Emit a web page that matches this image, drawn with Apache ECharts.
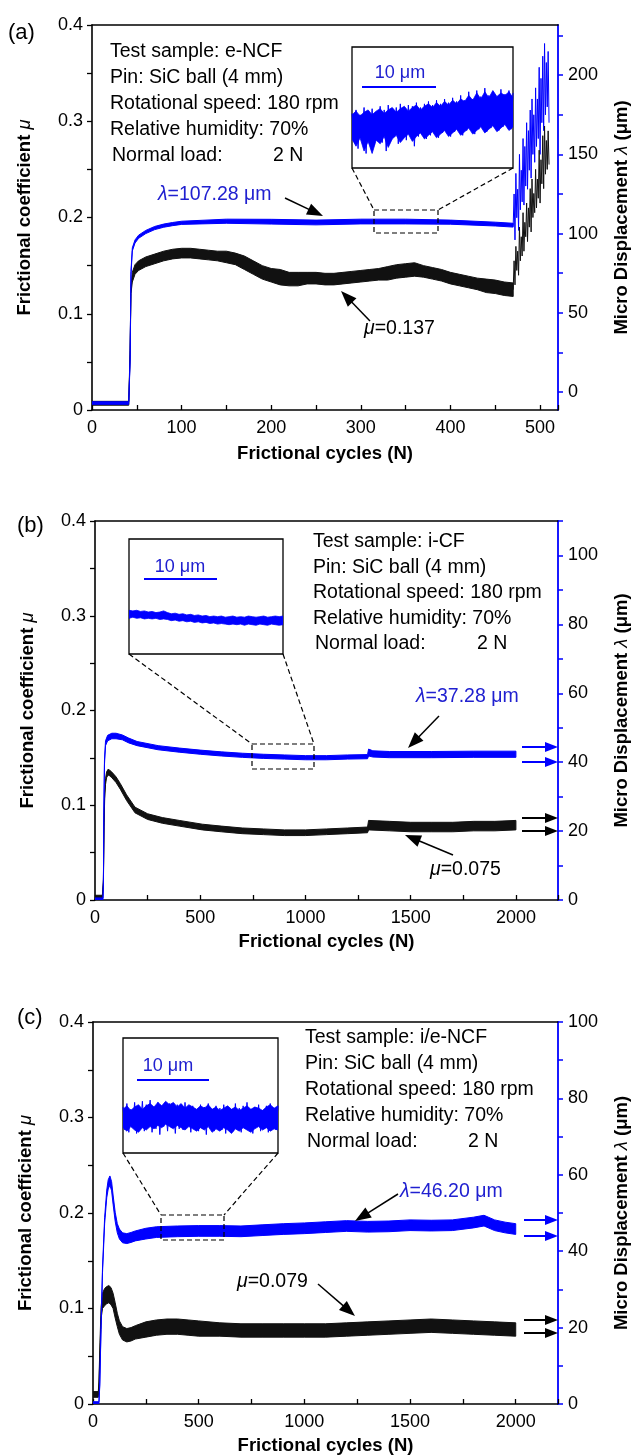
<!DOCTYPE html>
<html>
<head>
<meta charset="utf-8">
<script src="https://cdn.jsdelivr.net/npm/echarts@6/dist/echarts.min.js"></script>
<style>
html,body{margin:0;padding:0;background:#fff;}
#c{width:639px;height:1456px;}
</style>
</head>
<body>
<div id="c"></div>
<script>
// ================= DATA =================
// ---- Panel (a): e-NCF, x 0..520 cycles ----
const aMuX = [0, 41, 42.5, 43.5, 45, 48, 52, 60, 70, 80, 90, 100, 110, 120, 130, 140, 150, 160, 170, 180, 190, 200, 210, 220, 230, 240, 250, 260, 270, 280, 290, 300, 310, 320, 330, 340, 350, 360, 370, 380, 390, 400, 410, 420, 430, 440, 450, 460, 470];
const aMu = [0.007, 0.007, 0.06, 0.125, 0.138, 0.146, 0.150, 0.154, 0.157, 0.160, 0.162, 0.163, 0.163, 0.162, 0.161, 0.160, 0.159, 0.157, 0.153, 0.148, 0.143, 0.140, 0.138, 0.136, 0.136, 0.137, 0.137, 0.136, 0.136, 0.137, 0.138, 0.139, 0.140, 0.141, 0.142, 0.144, 0.145, 0.146, 0.144, 0.142, 0.140, 0.137, 0.135, 0.133, 0.131, 0.129, 0.128, 0.126, 0.125];
const aMuBand = [0.002, 0.002, 0.002, 0.004, 0.005, 0.005, 0.005, 0.005, 0.005, 0.005, 0.005, 0.005, 0.005, 0.005, 0.005, 0.005, 0.006, 0.006, 0.007, 0.007, 0.007, 0.007, 0.008, 0.007, 0.007, 0.006, 0.006, 0.006, 0.006, 0.006, 0.006, 0.006, 0.006, 0.006, 0.007, 0.007, 0.007, 0.007, 0.006, 0.006, 0.006, 0.006, 0.006, 0.006, 0.006, 0.007, 0.007, 0.007, 0.007];
const aLamX = [0, 41, 42.5, 43.5, 45, 48, 52, 60, 70, 80, 90, 100, 150, 200, 250, 300, 350, 400, 450, 470];
const aLam = [-7, -7, 20, 75, 90, 95, 98, 101, 103.5, 105, 106, 106.8, 107.8, 107.5, 107, 107.6, 107.6, 107.2, 106, 105.3];
const aLamBand = [0.8, 0.8, 0.8, 1, 1, 1, 1, 1, 1, 1, 1, 1, 1.3, 1.5, 1.5, 1.5, 1.5, 1.3, 1.2, 1.2];
const aTailX = [470, 471, 472, 473, 474, 475, 476, 477, 478, 479, 480, 481, 482, 483, 484, 485, 486, 487, 488, 489, 490, 491, 492, 493, 494, 495, 496, 497, 498, 499, 500, 501, 502, 503, 504, 505, 506, 507, 508, 509, 510];
const aMuTail = [0.125, 0.155, 0.13, 0.17, 0.145, 0.165, 0.14, 0.19, 0.155, 0.18, 0.16, 0.205, 0.165, 0.195, 0.18, 0.215, 0.175, 0.21, 0.19, 0.23, 0.185, 0.24, 0.2, 0.225, 0.205, 0.25, 0.21, 0.24, 0.22, 0.27, 0.215, 0.26, 0.235, 0.285, 0.23, 0.295, 0.245, 0.28, 0.25, 0.29, 0.255];
const aLamTail = [105, 125, 96, 138, 110, 128, 102, 150, 115, 140, 120, 160, 118, 155, 130, 170, 128, 165, 140, 178, 135, 185, 150, 175, 145, 192, 155, 185, 160, 205, 150, 198, 170, 212, 165, 220, 175, 208, 180, 215, 170];
// inset (a): upper / lower edge of the blue band + the noisy trace inside it (inset units 0..100)
const aInHi = [44, 47, 43, 46, 48, 44, 47, 49, 45, 48, 50, 46, 49, 51, 47, 50, 52, 48, 51, 53, 50, 54, 51, 55, 52, 56, 53, 57, 55, 60, 56, 62, 57, 63, 58, 64, 59, 62, 60, 63, 58];
const aInLo = [24, 18, 25, 14, 22, 12, 23, 20, 26, 17, 24, 27, 21, 25, 28, 22, 26, 29, 24, 27, 30, 25, 28, 31, 26, 29, 32, 27, 30, 33, 28, 31, 34, 29, 32, 35, 30, 33, 36, 31, 34];
const aInZig = [45, 22, 48, 16, 44, 26, 50, 12, 47, 23, 49, 19, 46, 25, 51, 21, 48, 14, 52, 24,
  47, 26, 50, 20, 53, 27, 49, 23, 52, 28, 51, 18, 54, 26, 50, 29, 53, 24, 55, 27,
  52, 30, 56, 25, 53, 29, 57, 31, 54, 26, 58, 30, 55, 32, 60, 27, 56, 31, 63, 33,
  57, 28, 64, 32, 59, 34, 66, 30, 60, 33, 63, 35, 58, 31, 65, 34, 61, 36, 64, 32, 62];

// ---- Panel (b): i-CF, x 0..2200 cycles ----
const bMuX = [0, 35, 40, 43, 46, 50, 55, 62, 70, 80, 100, 120, 150, 190, 250, 320, 400, 510, 600, 700, 800, 900, 1000, 1100, 1200, 1295, 1300, 1400, 1500, 1600, 1700, 1800, 1900, 2000];
const bMu = [0.003, 0.003, 0.02, 0.08, 0.11, 0.125, 0.132, 0.135, 0.134, 0.132, 0.127, 0.12, 0.108, 0.095, 0.088, 0.084, 0.081, 0.077, 0.075, 0.073, 0.072, 0.071, 0.071, 0.072, 0.073, 0.074, 0.079, 0.078, 0.077, 0.077, 0.077, 0.078, 0.078, 0.079];
const bMuBand = [0.002, 0.002, 0.002, 0.002, 0.003, 0.003, 0.003, 0.003, 0.003, 0.003, 0.003, 0.003, 0.003, 0.003, 0.003, 0.003, 0.003, 0.003, 0.003, 0.003, 0.003, 0.003, 0.003, 0.003, 0.003, 0.003, 0.005, 0.005, 0.005, 0.005, 0.005, 0.005, 0.005, 0.005];
const bLamX = [0, 38, 40, 42, 45, 50, 60, 80, 100, 130, 160, 200, 300, 400, 500, 600, 700, 800, 900, 1000, 1100, 1200, 1295, 1300, 1320, 1400, 1600, 1800, 2000];
const bLam = [0.3, 0.3, 5, 25, 40, 45.5, 47, 47.6, 47.6, 47.2, 46.3, 45.4, 44.2, 43.5, 42.9, 42.4, 42.0, 41.7, 41.5, 41.3, 41.3, 41.5, 41.6, 42.8, 42.4, 42.2, 42.2, 42.3, 42.3];
const bLamBand = [0.3, 0.3, 0.3, 0.5, 0.6, 0.7, 0.8, 0.8, 0.8, 0.7, 0.7, 0.6, 0.6, 0.6, 0.6, 0.6, 0.6, 0.6, 0.6, 0.6, 0.6, 0.6, 0.6, 1.0, 0.9, 0.9, 0.9, 0.9, 0.9];
const bInHi = [38, 37.5, 38, 37, 37.5, 36.5, 37, 36, 36.5, 37.5, 36, 35, 35.5, 34.5, 35, 34, 34.5, 33.5, 34, 33, 33.5, 32.5, 33, 32.5, 33, 32, 32.5, 33, 32, 32.5, 32, 33, 32.5, 32, 32.5, 33, 32, 32.5, 33, 32.5, 33];
const bInLo = [31, 32, 31, 31.5, 30.5, 31, 30.5, 31, 30, 30.5, 30, 29, 29.5, 28.5, 29, 28, 28.5, 27.5, 28, 27, 27.5, 26.5, 27, 26, 26.5, 26, 25.5, 26, 25.5, 26, 25, 26, 25.5, 25, 26, 25.5, 25, 26, 25.5, 25, 25.5];

// ---- Panel (c): i/e-NCF, x 0..2200 cycles ----
const cMuX = [0, 25, 28, 33, 38, 45, 55, 65, 75, 85, 95, 105, 115, 125, 140, 160, 180, 200, 250, 300, 350, 400, 450, 500, 600, 700, 800, 900, 1000, 1100, 1200, 1300, 1400, 1500, 1600, 1700, 1800, 1900, 2000];
const cMu = [0.010, 0.010, 0.02, 0.06, 0.095, 0.108, 0.112, 0.114, 0.115, 0.113, 0.108, 0.098, 0.088, 0.080, 0.074, 0.072, 0.073, 0.075, 0.078, 0.080, 0.081, 0.081, 0.080, 0.079, 0.078, 0.077, 0.077, 0.077, 0.077, 0.077, 0.078, 0.079, 0.080, 0.081, 0.082, 0.081, 0.080, 0.079, 0.078];
const cMuBand = [0.003, 0.003, 0.003, 0.004, 0.006, 0.008, 0.009, 0.009, 0.009, 0.009, 0.008, 0.008, 0.007, 0.007, 0.007, 0.007, 0.007, 0.007, 0.008, 0.008, 0.008, 0.008, 0.008, 0.008, 0.007, 0.007, 0.007, 0.007, 0.007, 0.007, 0.007, 0.007, 0.007, 0.007, 0.007, 0.007, 0.007, 0.007, 0.007];
const cLamX = [0, 28, 32, 38, 45, 55, 65, 72, 80, 88, 95, 105, 115, 125, 140, 160, 180, 200, 250, 300, 400, 500, 600, 700, 800, 900, 1000, 1100, 1200, 1300, 1400, 1500, 1600, 1700, 1800, 1850, 1900, 1950, 2000];
const cLam = [0.3, 0.3, 5, 20, 35, 48, 55, 57.5, 58.5, 57, 53.5, 49, 46, 44.5, 43.5, 43.3, 43.6, 44, 44.6, 45, 45.2, 45.3, 45.3, 45.2, 45.5, 45.8, 46, 46.3, 46.6, 46.4, 46.5, 46.8, 46.7, 46.8, 47.5, 48, 46.8, 46.2, 45.8];
const cLamBand = [0.3, 0.3, 0.3, 0.5, 0.6, 0.8, 1, 1.2, 1.2, 1.2, 1.2, 1.2, 1.2, 1.3, 1.3, 1.3, 1.3, 1.3, 1.4, 1.4, 1.4, 1.4, 1.4, 1.4, 1.4, 1.4, 1.4, 1.4, 1.4, 1.4, 1.4, 1.4, 1.4, 1.4, 1.4, 1.4, 1.4, 1.4, 1.4];
const cInHi = [38, 41, 37, 40, 42, 38, 41, 43, 40, 44, 41, 45, 42, 44, 40, 43, 39, 42, 40, 38, 41, 39, 42, 38, 40, 37, 39, 41, 38, 40, 37, 39, 41, 38, 40, 39, 37, 40, 42, 39, 41];
const cInLo = [22, 19, 23, 20, 18, 22, 20, 23, 21, 24, 22, 25, 23, 21, 24, 22, 20, 23, 21, 19, 22, 20, 23, 18, 21, 19, 22, 20, 17, 21, 19, 22, 20, 18, 21, 23, 20, 22, 19, 21, 20];
const cInZig = [40, 20, 43, 18, 38, 23, 44, 17, 41, 22, 45, 19, 42, 24, 46, 18, 40, 21, 44, 16,
  41, 23, 39, 19, 43, 22, 40, 17, 42, 21, 38, 20, 44, 23, 39, 18, 41, 22, 37, 19,
  42, 21, 40, 16, 43, 22, 38, 19, 41, 23, 39, 20, 42, 17, 40, 22, 38, 19, 43, 21,
  39, 18, 41, 22, 44, 20, 38, 17, 40, 23, 42, 19, 37, 21, 41, 18, 43, 22, 39, 20, 41];

// ---- tick values ----
const aRightLabels = [0, 50, 100, 150, 200];
const aRightTicks = [0, 25, 50, 75, 100, 125, 150, 175, 200, 225];

// ================= CHART =================
const FONT = '"Liberation Sans", Arial, Helvetica, sans-serif';
const BLUE = '#0000ff';
const BLUE_TXT = '#2020d0';
const LBL = 18, TTL = 18.5, ANN = 19.5;

const chart = echarts.init(document.getElementById('c'), null, {renderer: 'canvas'});

const titleStyle = {
  color: '#000', fontSize: TTL, fontWeight: 'bold', fontFamily: FONT,
  rich: {i: {fontStyle: 'italic', fontWeight: 'normal', fontSize: TTL, fontFamily: FONT, color: '#000'}}
};
const labelStyle = {color: '#000', fontSize: LBL, fontFamily: FONT};

function xMain(grid, max, interval, every, gap) {
  return {
    type: 'value', gridIndex: grid, min: 0, max: max, interval: interval, position: 'bottom',
    axisLine: {show: true, onZero: false, lineStyle: {color: '#000', width: 1.6}},
    axisTick: {show: true, inside: true, length: 5, lineStyle: {color: '#000', width: 1.3}},
    axisLabel: Object.assign({margin: 9, formatter: v => (Math.round(v) % every === 0 ? String(Math.round(v)) : '')}, labelStyle),
    splitLine: {show: false},
    name: 'Frictional cycles (N)', nameLocation: 'middle', nameGap: gap, nameTextStyle: titleStyle
  };
}
function xTop(grid, max) {
  return {
    type: 'value', gridIndex: grid, min: 0, max: max, position: 'top',
    axisLine: {show: true, onZero: false, lineStyle: {color: '#000', width: 1.6}},
    axisTick: {show: false}, axisLabel: {show: false}, splitLine: {show: false}
  };
}
function yLeft(grid) {
  return {
    type: 'value', gridIndex: grid, min: 0, max: 0.4, interval: 0.05, position: 'left',
    axisLine: {show: true, onZero: false, lineStyle: {color: '#000', width: 1.6}},
    axisTick: {show: true, inside: false, length: 5, lineStyle: {color: '#000', width: 1.3}},
    axisLabel: Object.assign({margin: 9, formatter: v => { const k = Math.round(v * 20); return k % 2 === 0 ? String(k / 20) : ''; }}, labelStyle),
    splitLine: {show: false},
    name: 'Frictional coefficient {i|μ}', nameLocation: 'middle', nameGap: 58, nameTextStyle: titleStyle
  };
}
function yRight(grid, max) {
  return {
    type: 'value', gridIndex: grid, min: 0, max: max, interval: 10, position: 'right',
    axisLine: {show: true, onZero: false, lineStyle: {color: BLUE, width: 1.8}},
    axisTick: {show: true, inside: false, length: 5, lineStyle: {color: BLUE, width: 1.5}},
    axisLabel: Object.assign({margin: 10, formatter: v => (Math.round(v) % 20 === 0 ? String(Math.round(v)) : '')}, labelStyle),
    splitLine: {show: false},
    name: 'Micro Displacement {i|λ} (μm)', nameLocation: 'middle', nameRotate: 90, nameGap: 54, nameTextStyle: titleStyle
  };
}
function hidden(grid, min, max) {
  return {type: 'value', gridIndex: grid, min: min, max: max, show: false, splitLine: {show: false}};
}
// band around a mean line (mean +/- half-width), drawn as one polygon through the axes' scales
function band(xs, mid, half, xi, yi, color) {
  return {
    type: 'custom', xAxisIndex: xi, yAxisIndex: yi, clip: true, silent: true, z: 3,
    data: [[xs[0], mid[0]]],
    renderItem: function (params, api) {
      const pts = [];
      for (let i = 0; i < xs.length; i++) pts.push(api.coord([xs[i], mid[i] + half[i]]));
      for (let i = xs.length - 1; i >= 0; i--) pts.push(api.coord([xs[i], mid[i] - half[i]]));
      return {type: 'polygon', shape: {points: pts}, style: {fill: color, stroke: color, lineWidth: 1}};
    }
  };
}
// band given its upper and lower edges, sampled at equal steps (inset traces)
function bandHL(hi, lo, xi, yi, color) {
  return {
    type: 'custom', xAxisIndex: xi, yAxisIndex: yi, clip: true, silent: true, z: 3,
    data: [[0, hi[0]]],
    renderItem: function (params, api) {
      const pts = [];
      for (let i = 0; i < hi.length; i++) pts.push(api.coord([i, hi[i]]));
      for (let i = lo.length - 1; i >= 0; i--) pts.push(api.coord([i, lo[i]]));
      return {type: 'polygon', shape: {points: pts}, style: {fill: color, stroke: color, lineWidth: 0.8}};
    }
  };
}
function zip(xs, ys) { return xs.map((x, i) => [x, ys[i]]); }
function idx(ys) { return ys.map((y, i) => [i, y]); }
function lineS(data, xi, yi, color, w) {
  return {type: 'line', xAxisIndex: xi, yAxisIndex: yi, data: data, showSymbol: false, symbol: 'none',
    silent: true, animation: false, clip: true, z: 4, lineStyle: {color: color, width: w}};
}

const insetGrid = {show: true, borderColor: '#000', borderWidth: 1.3, backgroundColor: '#fff'};

// ---------- graphics ----------
const g = [];
function txt(x, y, text, extra) {
  g.push({type: 'text', x: x, y: y, z: 100, style: Object.assign({
    text: text, fill: '#000', fontSize: ANN, fontFamily: FONT, align: 'left', verticalAlign: 'middle'
  }, extra || {})});
}
function seg(x1, y1, x2, y2, color, w, dash) {
  g.push({type: 'line', z: 100, shape: {x1: x1, y1: y1, x2: x2, y2: y2},
    style: {stroke: color, lineWidth: w, lineDash: dash || null}});
}
function dashRect(x1, y1, x2, y2) {
  g.push({type: 'rect', z: 100, shape: {x: x1, y: y1, width: x2 - x1, height: y2 - y1},
    style: {fill: 'none', stroke: '#000', lineWidth: 1.2, lineDash: [5, 3]}});
}
function arrow(x1, y1, x2, y2, color, hl, hw, w) {
  const dx = x2 - x1, dy = y2 - y1, L = Math.hypot(dx, dy), ux = dx / L, uy = dy / L;
  const bx = x2 - ux * hl, by = y2 - uy * hl;
  seg(x1, y1, bx + ux, by + uy, color, w);
  g.push({type: 'polygon', z: 101, shape: {points: [[x2, y2], [bx - uy * hw, by + ux * hw], [bx + uy * hw, by - ux * hw]]},
    style: {fill: color}});
}
function lamText(x, y, val) {
  txt(x, y, '{i|λ}=' + val + ' μm', {fill: BLUE_TXT,
    rich: {i: {fontStyle: 'italic', fontSize: ANN, fontFamily: FONT, fill: BLUE_TXT}}});
}
function muText(x, y, val) {
  txt(x, y, '{i|μ}=' + val, {rich: {i: {fontStyle: 'italic', fontSize: ANN, fontFamily: FONT, fill: '#000'}}});
}
function info(x, y0, dy, sample, nx) {
  txt(x, y0, 'Test sample: ' + sample);
  txt(x, y0 + dy, 'Pin: SiC ball (4 mm)');
  txt(x, y0 + 2 * dy, 'Rotational speed: 180 rpm');
  txt(x, y0 + 3 * dy, 'Relative humidity: 70%');
  txt(x + 2, y0 + 4 * dy, 'Normal load:');
  txt(nx, y0 + 4 * dy, '2 N');
}
function scaleBar(cx, ty, x1, x2, by) {
  txt(cx, ty, '10 μm', {fill: BLUE_TXT, align: 'center', fontSize: 18});
  seg(x1, by, x2, by, BLUE, 2.2);
}

// panel labels
txt(8, 33, '(a)', {fontSize: 22});
txt(17, 526, '(b)', {fontSize: 22});
txt(17, 1018, '(c)', {fontSize: 22});

// (a)
info(110, 52, 26, 'e-NCF', 273);
scaleBar(400, 73, 362, 436, 87);
dashRect(374, 210, 438, 233);
seg(352, 168, 374, 210, '#000', 1.2, [5, 3]);
seg(513, 168, 438, 210, '#000', 1.2, [5, 3]);
lamText(158, 195, '107.28');
arrow(285, 198, 323, 216, '#000', 16, 6, 1.5);
muText(364, 329, '0.137');
arrow(370, 321, 341, 291, '#000', 16, 6, 1.5);

// (b)
info(313, 542, 25.5, 'i-CF', 477);
scaleBar(180, 567, 144, 217, 579);
dashRect(252, 744, 314, 769);
seg(129, 654, 252, 744, '#000', 1.2, [5, 3]);
seg(283, 654, 314, 744, '#000', 1.2, [5, 3]);
lamText(416, 697, '37.28');
arrow(439, 716, 408, 748, '#000', 16, 6, 1.5);
muText(430, 870, '0.075');
arrow(453, 855, 405, 835, '#000', 16, 6, 1.5);
arrow(522, 747, 558, 747, BLUE, 13, 5, 2);
arrow(522, 762, 558, 762, BLUE, 13, 5, 2);
arrow(522, 818, 558, 818, '#000', 13, 5, 2);
arrow(522, 831, 558, 831, '#000', 13, 5, 2);

// (c)
info(305, 1038, 26, 'i/e-NCF', 468);
scaleBar(168, 1066, 137, 209, 1080);
dashRect(161, 1215, 224, 1240);
seg(123, 1153, 161, 1215, '#000', 1.2, [5, 3]);
seg(278, 1153, 224, 1215, '#000', 1.2, [5, 3]);
lamText(400, 1192, '46.20');
arrow(398, 1194, 355, 1221, '#000', 16, 6, 1.5);
muText(237, 1282, '0.079');
arrow(318, 1284, 355, 1316, '#000', 16, 6, 1.5);
arrow(524, 1220, 558, 1220, BLUE, 13, 5, 2);
arrow(524, 1236, 558, 1236, BLUE, 13, 5, 2);
arrow(524, 1320, 558, 1320, '#000', 13, 5, 2);
arrow(524, 1333, 558, 1333, '#000', 13, 5, 2);

const option = {
  backgroundColor: '#fff',
  animation: false,
  grid: [
    {left: 92, top: 25, width: 475, height: 385},
    {left: 95, top: 521, width: 469, height: 379},
    {left: 93, top: 1022, width: 471, height: 383},
    Object.assign({left: 352, top: 47, width: 161, height: 121}, insetGrid),
    Object.assign({left: 129, top: 539, width: 154, height: 115}, insetGrid),
    Object.assign({left: 123, top: 1038, width: 155, height: 115}, insetGrid)
  ],
  xAxis: [
    xMain(0, 520, 50, 100, 34), xTop(0, 520),
    xMain(1, 2200, 250, 500, 32), xTop(1, 2200),
    xMain(2, 2200, 250, 500, 32), xTop(2, 2200),
    hidden(3, 0, aInHi.length - 1), hidden(4, 0, bInHi.length - 1), hidden(5, 0, cInHi.length - 1),
    hidden(3, 0, aInZig.length - 1), hidden(5, 0, cInZig.length - 1)
  ],
  yAxis: [
    yLeft(0),
    {
      type: 'value', gridIndex: 0, min: -11.4, max: 231.7, position: 'right',
      axisLine: {show: true, onZero: false, lineStyle: {color: BLUE, width: 1.8}},
      axisTick: {show: true, inside: false, length: 5, customValues: aRightTicks, lineStyle: {color: BLUE, width: 1.5}},
      axisLabel: Object.assign({margin: 10, customValues: aRightLabels}, labelStyle),
      splitLine: {show: false},
      name: 'Micro Displacement {i|λ} (μm)', nameLocation: 'middle', nameRotate: 90, nameGap: 54, nameTextStyle: titleStyle
    },
    yLeft(1), yRight(1, 110),
    yLeft(2), yRight(2, 100),
    hidden(3, 0, 100), hidden(4, 0, 100), hidden(5, 0, 100)
  ],
  series: [
    // (a)
    band(aMuX, aMu, aMuBand, 0, 0, '#111'),
    band(aLamX, aLam, aLamBand, 0, 1, BLUE),
    lineS(zip(aTailX, aLamTail), 0, 1, BLUE, 1),
    lineS(zip(aTailX, aMuTail), 0, 0, '#111', 1),
    // (b)
    band(bMuX, bMu, bMuBand, 2, 2, '#111'),
    band(bLamX, bLam, bLamBand, 2, 3, BLUE),
    // (c)
    band(cMuX, cMu, cMuBand, 4, 4, '#111'),
    band(cLamX, cLam, cLamBand, 4, 5, BLUE),
    // insets
    bandHL(aInHi, aInLo, 6, 6, BLUE),
    lineS(idx(aInZig), 9, 6, BLUE, 1),
    bandHL(bInHi, bInLo, 7, 7, BLUE),
    bandHL(cInHi, cInLo, 8, 8, BLUE),
    lineS(idx(cInZig), 10, 8, BLUE, 1)
  ],
  graphic: g
};
chart.setOption(option);
</script>
</body>
</html>
